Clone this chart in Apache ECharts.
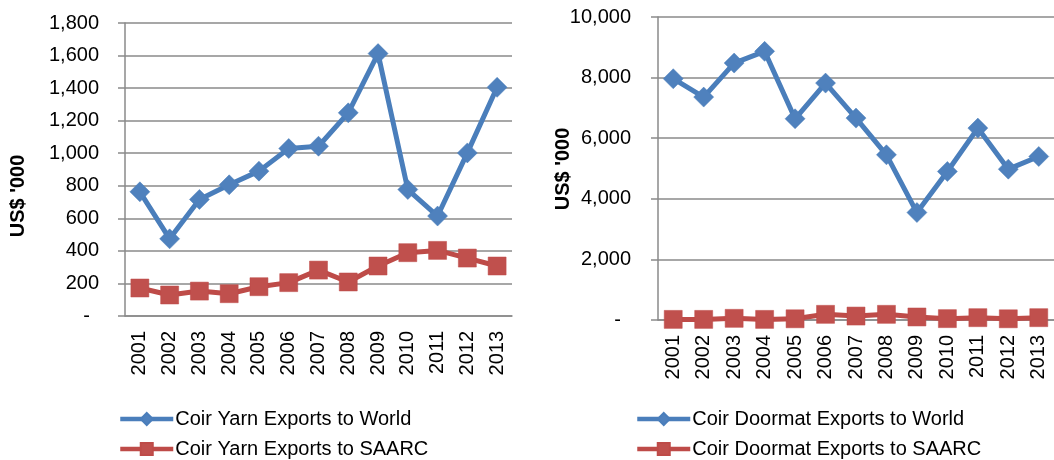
<!DOCTYPE html>
<html>
<head>
<meta charset="utf-8">
<script src="https://cdn.jsdelivr.net/npm/echarts@6/dist/echarts.min.js"></script>
<style>
  html, body { margin: 0; padding: 0; background: #fff; }
  #container { width: 1054px; height: 460px; }
</style>
</head>
<body>
<div id="container"></div>
<script>
  var years = ['2001', '2002', '2003', '2004', '2005', '2006', '2007', '2008', '2009', '2010', '2011', '2012', '2013'];
  // left panel: coir yarn (US$ '000)
  var yarnWorld = [763, 474, 716, 806, 890, 1029, 1043, 1248, 1612, 777, 614, 1002, 1405];
  var yarnSaarc = [172, 129, 153, 137, 180, 205, 282, 209, 307, 389, 403, 356, 307];
  // right panel: coir doormats (US$ '000)
  var matWorld = [7963, 7357, 8480, 8866, 6641, 7819, 6663, 5452, 3546, 4901, 6333, 4978, 5396];
  var matSaarc = [20, 20, 55, 20, 40, 187, 130, 187, 100, 45, 77, 40, 77];

  var names = ['Coir Yarn Exports to World', 'Coir Yarn Exports to SAARC',
               'Coir Doormat Exports to World', 'Coir Doormat Exports to SAARC'];

  var dom = document.getElementById('container');
  var myChart = echarts.init(dom, null, { renderer: 'canvas' });

  var font = 'Liberation Sans';
  var gray = '#8a8a8a';
  var blue = '#4A7EBB';
  var red = '#BE4B48';

  function fmt(v) {
    if (v === 0) return '{z|-}';
    return v.toLocaleString('en-US');
  }

  function xAxisFor(idx) {
    return {
      type: 'category',
      gridIndex: idx,
      data: years,
      axisLine: { lineStyle: { color: gray, width: 1.5 } },
      axisTick: { length: 7, lineStyle: { color: gray, width: 1.5 } },
      axisLabel: { rotate: 90, margin: 15, color: '#000', fontFamily: font, fontSize: 20 }
    };
  }

  function yAxisFor(idx, max, interval, margin, pad) {
    return {
      type: 'value',
      gridIndex: idx,
      min: 0,
      max: max,
      interval: interval,
      axisLine: { show: true, lineStyle: { color: gray, width: 1.5 } },
      axisTick: { show: true, length: 7, lineStyle: { color: gray, width: 1.5 } },
      splitLine: { lineStyle: { color: gray, width: 1.5 } },
      axisLabel: {
        margin: margin, color: '#000', fontFamily: font, fontSize: 20,
        formatter: fmt,
        rich: { z: { fontFamily: font, fontSize: 20, color: '#000', padding: [0, pad, 0, 0] } }
      }
    };
  }

  function legendFor(name, left, top) {
    return {
      data: [name],
      left: left, top: top,
      itemWidth: 53, itemHeight: 15,
      lineStyle: { width: 4.5 },
      textStyle: { fontFamily: font, fontSize: 20, color: '#000', padding: [0, 0, 0, -3] }
    };
  }

  function lineSeries(name, data, idx, color, symbol, size) {
    return {
      name: name,
      type: 'line',
      xAxisIndex: idx,
      yAxisIndex: idx,
      data: data,
      symbol: symbol,
      symbolSize: size,
      lineStyle: { color: color, width: 5 },
      itemStyle: { color: color === blue ? '#4F81BD' : '#C0504D', borderColor: color, borderWidth: 0.5 }
    };
  }

  var option = {
    animation: false,
    textStyle: { fontFamily: font },
    grid: [
      { left: 125, top: 23, width: 387, height: 293 },
      { left: 658, top: 17, width: 396, height: 303 }
    ],
    xAxis: [xAxisFor(0), xAxisFor(1)],
    yAxis: [yAxisFor(0, 1800, 200, 26, 9), yAxisFor(1, 10000, 2000, 27, 10)],
    legend: [
      legendFor(names[0], 113, 404),
      legendFor(names[1], 113, 434),
      legendFor(names[2], 630, 404),
      legendFor(names[3], 630, 434)
    ],
    graphic: [
      {
        type: 'text', x: 18, y: 196, rotation: Math.PI / 2,
        style: { text: "US$ '000", fontFamily: font, fontSize: 20, fontWeight: 'bold', fill: '#000', align: 'center', verticalAlign: 'middle' }
      },
      {
        type: 'text', x: 563, y: 169, rotation: Math.PI / 2,
        style: { text: "US$ '000", fontFamily: font, fontSize: 20, fontWeight: 'bold', fill: '#000', align: 'center', verticalAlign: 'middle' }
      }
    ],
    series: [
      lineSeries(names[0], yarnWorld, 0, blue, 'diamond', 20),
      lineSeries(names[1], yarnSaarc, 0, red, 'rect', 18),
      lineSeries(names[2], matWorld, 1, blue, 'diamond', 20),
      lineSeries(names[3], matSaarc, 1, red, 'rect', 18)
    ]
  };

  myChart.setOption(option);
  window.addEventListener('resize', myChart.resize);
</script>
</body>
</html>
